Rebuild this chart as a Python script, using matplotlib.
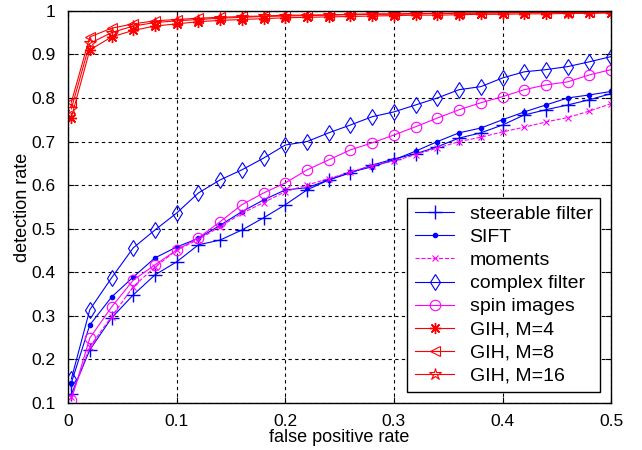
import matplotlib.pyplot as plt
import numpy as np

fpr = [0.003, 0.02, 0.04, 0.06, 0.08, 0.10, 0.12, 0.14, 0.16, 0.18, 0.20, 0.22, 0.24,
       0.26, 0.28, 0.30, 0.32, 0.34, 0.36, 0.38, 0.40, 0.42, 0.44, 0.46, 0.48, 0.50]

steerable = [0.12, 0.222, 0.295, 0.348, 0.394, 0.424, 0.463, 0.474, 0.497, 0.525, 0.555,
             0.589, 0.612, 0.628, 0.646, 0.66, 0.672, 0.688, 0.708, 0.72, 0.738, 0.761,
             0.773, 0.784, 0.796, 0.81]
sift = [0.146, 0.279, 0.343, 0.389, 0.433, 0.458, 0.478, 0.508, 0.539, 0.566, 0.589, 0.594,
        0.612, 0.63, 0.642, 0.658, 0.678, 0.70, 0.72, 0.731, 0.75, 0.768, 0.784, 0.80,
        0.807, 0.815]
moments = [0.114, 0.229, 0.298, 0.367, 0.412, 0.451, 0.475, 0.505, 0.535, 0.56, 0.585, 0.60,
           0.615, 0.63, 0.645, 0.655, 0.67, 0.685, 0.70, 0.71, 0.722, 0.733, 0.745, 0.755,
           0.77, 0.787]
complex_filter = [0.155, 0.314, 0.387, 0.456, 0.497, 0.536, 0.582, 0.612, 0.635, 0.662,
                  0.692, 0.70, 0.72, 0.738, 0.757, 0.768, 0.784, 0.80, 0.819, 0.826, 0.846,
                  0.86, 0.865, 0.872, 0.883, 0.895]
spin = [0.107, 0.249, 0.32, 0.382, 0.417, 0.451, 0.479, 0.516, 0.555, 0.582, 0.605, 0.635,
        0.658, 0.681, 0.697, 0.715, 0.734, 0.754, 0.773, 0.789, 0.803, 0.819, 0.83, 0.837,
        0.853, 0.865]
gih4 = [0.755, 0.91, 0.94, 0.955, 0.965, 0.97, 0.975, 0.978, 0.98, 0.982, 0.984, 0.985,
        0.986, 0.987, 0.988, 0.989, 0.99, 0.99, 0.991, 0.992, 0.992, 0.993, 0.993, 0.994,
        0.994, 0.995]
gih8 = [0.79, 0.94, 0.96, 0.97, 0.977, 0.98, 0.983, 0.985, 0.987, 0.988, 0.99, 0.99, 0.991,
        0.992, 0.993, 0.993, 0.994, 0.994, 0.995, 0.995, 0.996, 0.996, 0.996, 0.997, 0.997,
        0.997]
gih16 = [0.775, 0.925, 0.95, 0.965, 0.973, 0.977, 0.98, 0.983, 0.985, 0.987, 0.988, 0.989,
         0.99, 0.991, 0.992, 0.992, 0.993, 0.994, 0.994, 0.995, 0.995, 0.996, 0.996, 0.996,
         0.997, 0.997]

plt.rcParams['font.family'] = ['Liberation Sans', 'DejaVu Sans']

fig = plt.figure(figsize=(6.42, 4.5), dpi=100)
ax = fig.add_axes([0.106, 0.1044, 0.846, 0.8716])

blue = '#0000ff'
mag = '#ff00ff'
red = '#ff0000'
lw = 0.8
mfc = 'none'
asterisk = (8, 2, 0)

ax.plot(fpr, steerable, color=blue, marker='+', ms=10, lw=lw, mew=1.0, label='steerable filter')
ax.plot(fpr, sift, color=blue, marker='.', ms=6, lw=lw, label='SIFT')
ax.plot(fpr, moments, color=mag, marker='x', ms=5, lw=lw, ls='--', mew=0.8, label='moments')
ax.plot(fpr, complex_filter, color=blue, marker='d', ms=8, lw=lw, mfc=mfc, mew=0.8, label='complex filter')
ax.plot(fpr, spin, color=mag, marker='o', ms=7.5, lw=lw, mfc=mfc, mew=0.8, label='spin images')
ax.plot(fpr, gih4, color=red, marker=asterisk, ms=8, lw=lw, mew=1.0, label='GIH, M=4')
ax.plot(fpr, gih8, color=red, marker='<', ms=7.5, lw=lw, mfc=mfc, mew=0.8, label='GIH, M=8')
ax.plot(fpr, gih16, color=red, marker='*', ms=9, lw=lw, mfc=mfc, mew=0.8, label='GIH, M=16')

ax.set_xlim(0, 0.5)
ax.set_ylim(0.1, 1)
ax.set_xticks([0, 0.1, 0.2, 0.3, 0.4, 0.5])
ax.set_xticklabels(['0', '0.1', '0.2', '0.3', '0.4', '0.5'])
ax.set_yticks(np.round(np.arange(0.1, 1.01, 0.1), 1))
ax.set_yticklabels(['0.1', '0.2', '0.3', '0.4', '0.5', '0.6', '0.7', '0.8', '0.9', '1'])
ax.tick_params(direction='in', labelsize=12.5, length=4, color='k', top=True, right=True)
ax.tick_params(axis='x', pad=8)
ax.tick_params(axis='y', pad=9)
ax.grid(True, color='k', ls=(0, (3, 3)), lw=0.8)
for s in ax.spines.values():
    s.set_linewidth(1.0)

ax.set_xlabel('false positive rate', fontsize=13, labelpad=0)
ax.set_ylabel('detection rate', fontsize=13, labelpad=0)

leg = ax.legend(loc='lower right', fontsize=14, frameon=True, fancybox=False,
                edgecolor='k', framealpha=1, handlelength=2.0, handletextpad=0.8,
                labelspacing=0.28, borderaxespad=0.55, borderpad=0.4)
leg.get_frame().set_linewidth(1.0)

plt.savefig('out.png', dpi=100)
